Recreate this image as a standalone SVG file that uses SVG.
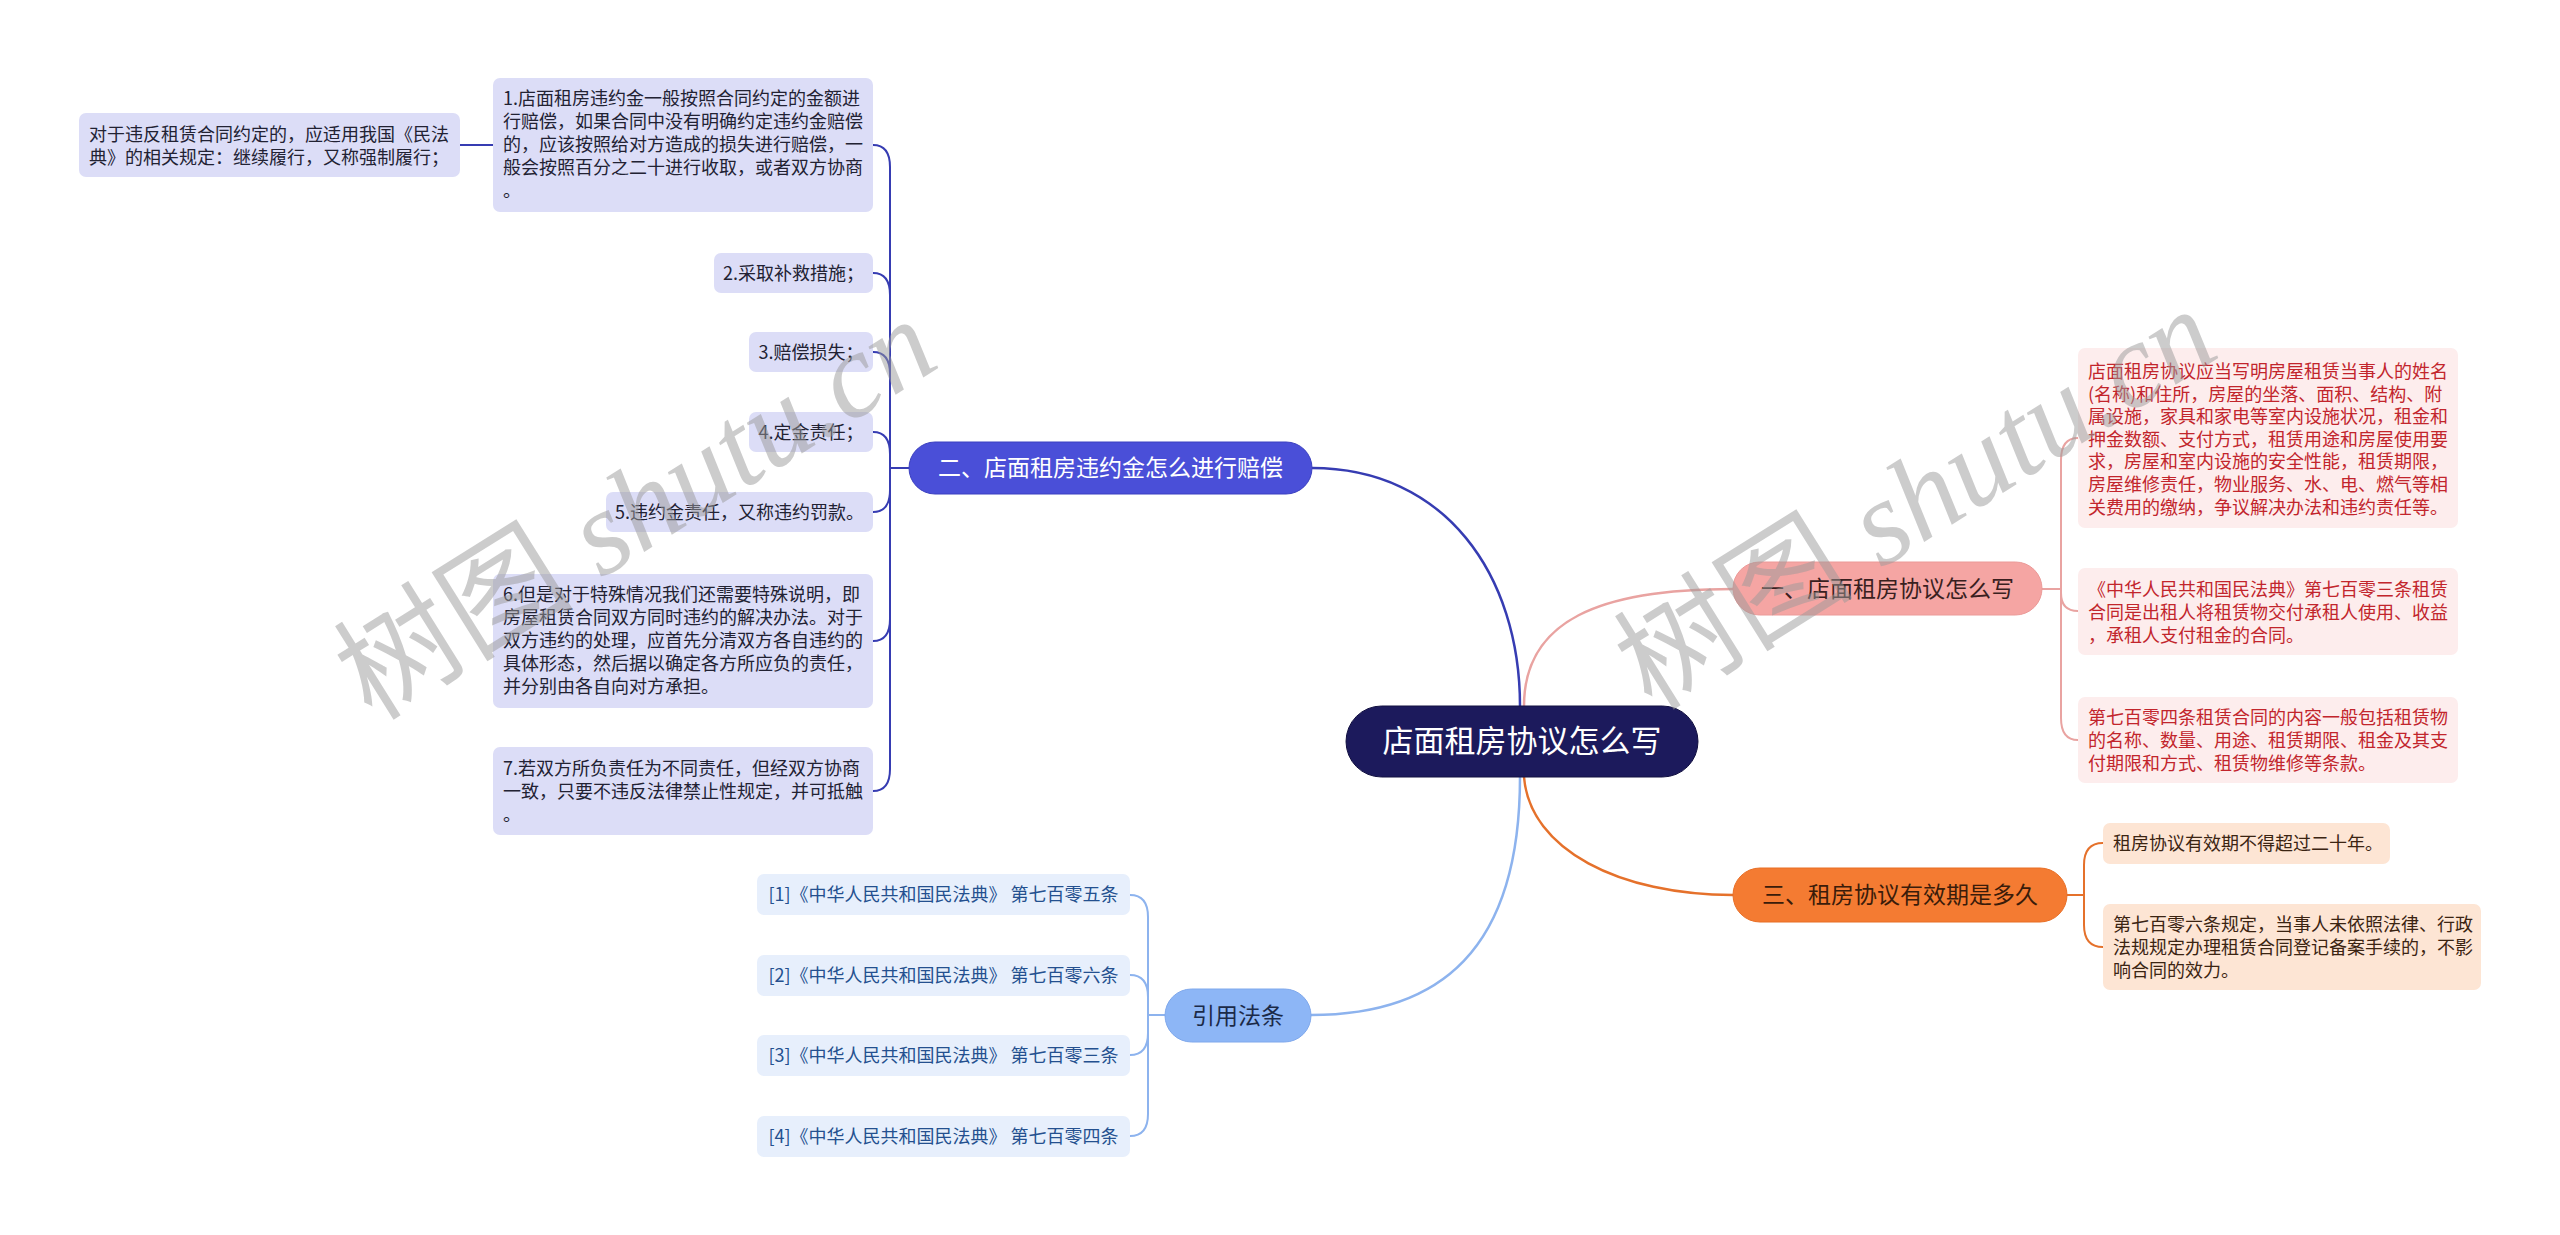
<svg xmlns="http://www.w3.org/2000/svg" width="2560" height="1235" viewBox="0 0 2560 1235">
<style>
text{font-family:"Noto Sans CJK SC","Noto Sans",sans-serif;}
.t18{font-size:18px;}
.br{font-size:23px;}
.lv{fill:#dcddf7;}
.lvt{fill:#222233;}
.pk{fill:#fdeded;}
.pkt{fill:#c2252c;}
.or{fill:#fde5d4;}
.ort{fill:#3b2412;}
.bl{fill:#e7effc;}
.blt{fill:#24508f;}
.c2{fill:none;stroke-width:2;}
.c3{fill:none;stroke-width:2.5;}
.wm{font-family:"Liberation Serif","Noto Sans CJK SC",serif;font-size:120px;fill:#9a9a9a;fill-opacity:0.5;}
</style>
<rect width="2560" height="1235" fill="#ffffff"/>

<g id="connectors">
  <path class="c3" stroke="#363cb2" d="M1520 706 C1520 575 1445 468 1312 468"/>
  <path class="c3" stroke="#e9a3a1" d="M1524 706 C1524 620 1600 589 1733 589"/>
  <path class="c3" stroke="#e5712b" d="M1524 777 C1530 850 1620 895 1733 895"/>
  <path class="c3" stroke="#8db3ee" d="M1520 777 C1520 950 1440 1015 1311 1015"/>

  <g stroke="#363cb2">
    <path class="c2" d="M493 145 H460"/>
    <path class="c2" d="M909 468 H890 V167 Q890 145 873 145"/>
    <path class="c2" d="M909 468 H890 V295 Q890 273 873 273"/>
    <path class="c2" d="M909 468 H890 V374 Q890 352 873 352"/>
    <path class="c2" d="M909 468 H890 V454 Q890 432 873 432"/>
    <path class="c2" d="M909 468 H890 V490 Q890 512 873 512"/>
    <path class="c2" d="M909 468 H890 V619 Q890 641 873 641"/>
    <path class="c2" d="M909 468 H890 V769 Q890 791 873 791"/>
  </g>
  <g stroke="#e9a3a1">
    <path class="c2" d="M2042 589 H2061 V460 Q2061 438 2078 438"/>
    <path class="c2" d="M2042 589 H2061 V593 Q2061 611 2078 611"/>
    <path class="c2" d="M2042 589 H2061 V718 Q2061 740 2078 740"/>
  </g>
  <g stroke="#e5712b">
    <path class="c2" d="M2067 895 H2084 V865 Q2084 843 2103 843"/>
    <path class="c2" d="M2067 895 H2084 V925 Q2084 947 2103 947"/>
  </g>
  <g stroke="#8db3ee">
    <path class="c2" d="M1165 1015 H1148 V917 Q1148 895 1130 895"/>
    <path class="c2" d="M1165 1015 H1148 V997 Q1148 975 1130 975"/>
    <path class="c2" d="M1165 1015 H1148 V1033 Q1148 1055 1130 1055"/>
    <path class="c2" d="M1165 1015 H1148 V1114 Q1148 1136 1130 1136"/>
  </g>
</g>

<g id="root">
  <rect x="1346" y="706" width="352" height="71" rx="35.5" fill="#1c1a5c" stroke="#121040" stroke-width="1"/>
  <text x="1522" y="752" font-size="31" fill="#ffffff" text-anchor="middle">店面租房协议怎么写</text>
</g>

<g id="branch2">
  <rect x="909" y="442" width="403" height="52" rx="26" fill="#4a4fd8" stroke="#3b40c0" stroke-width="1"/>
  <text class="br" x="1110.5" y="476" fill="#ffffff" text-anchor="middle">二、店面租房违约金怎么进行赔偿</text>
</g>
<g id="n-left0">
  <rect class="lv" x="79" y="113" width="381" height="64" rx="7"/>
  <text class="t18 lvt" x="89" y="141">对于违反租赁合同约定的，应适用我国《民法<tspan x="89" dy="23">典》的相关规定：继续履行，又称强制履行；</tspan></text>
</g>
<g id="n-b2-1">
  <rect class="lv" x="493" y="78" width="380" height="134" rx="7"/>
  <text class="t18 lvt" x="503" y="105"><tspan x="503">1.店面租房违约金一般按照合同约定的金额进</tspan><tspan x="503" dy="23">行赔偿，如果合同中没有明确约定违约金赔偿</tspan><tspan x="503" dy="23">的，应该按照给对方造成的损失进行赔偿，一</tspan><tspan x="503" dy="23">般会按照百分之二十进行收取，或者双方协商</tspan><tspan x="503" dy="23">。</tspan></text>
</g>
<g id="n-b2-2">
  <rect class="lv" x="714" y="253" width="159" height="40" rx="7"/>
  <text class="t18 lvt" x="793.5" y="279.5" text-anchor="middle">2.采取补救措施；</text>
</g>
<g id="n-b2-3">
  <rect class="lv" x="749" y="332" width="124" height="40" rx="7"/>
  <text class="t18 lvt" x="811" y="358.5" text-anchor="middle">3.赔偿损失；</text>
</g>
<g id="n-b2-4">
  <rect class="lv" x="749" y="412" width="124" height="40" rx="7"/>
  <text class="t18 lvt" x="811" y="438.5" text-anchor="middle">4.定金责任；</text>
</g>
<g id="n-b2-5">
  <rect class="lv" x="606" y="492" width="267" height="40" rx="7"/>
  <text class="t18 lvt" x="739.5" y="518.5" text-anchor="middle">5.违约金责任，又称违约罚款。</text>
</g>
<g id="n-b2-6">
  <rect class="lv" x="493" y="574" width="380" height="134" rx="7"/>
  <text class="t18 lvt" x="503" y="601"><tspan x="503">6.但是对于特殊情况我们还需要特殊说明，即</tspan><tspan x="503" dy="23">房屋租赁合同双方同时违约的解决办法。对于</tspan><tspan x="503" dy="23">双方违约的处理，应首先分清双方各自违约的</tspan><tspan x="503" dy="23">具体形态，然后据以确定各方所应负的责任，</tspan><tspan x="503" dy="23">并分别由各自向对方承担。</tspan></text>
</g>
<g id="n-b2-7">
  <rect class="lv" x="493" y="747" width="380" height="88" rx="7"/>
  <text class="t18 lvt" x="503" y="775"><tspan x="503">7.若双方所负责任为不同责任，但经双方协商</tspan><tspan x="503" dy="23">一致，只要不违反法律禁止性规定，并可抵触</tspan><tspan x="503" dy="23">。</tspan></text>
</g>

<g id="branch1">
  <rect x="1733" y="562" width="309" height="53" rx="26.5" fill="#f5a5a3" stroke="#eb9a98" stroke-width="1"/>
  <text class="br" x="1887.5" y="596.5" fill="#3a1f1f" text-anchor="middle">一、店面租房协议怎么写</text>
</g>
<g id="n-b1-1">
  <rect class="pk" x="2078" y="348" width="380" height="180" rx="7"/>
  <text class="t18 pkt" x="2088" y="378"><tspan x="2088">店面租房协议应当写明房屋租赁当事人的姓名</tspan><tspan x="2088" dy="22.6">(名称)和住所，房屋的坐落、面积、结构、附</tspan><tspan x="2088" dy="22.6">属设施，家具和家电等室内设施状况，租金和</tspan><tspan x="2088" dy="22.6">押金数额、支付方式，租赁用途和房屋使用要</tspan><tspan x="2088" dy="22.6">求，房屋和室内设施的安全性能，租赁期限，</tspan><tspan x="2088" dy="22.6">房屋维修责任，物业服务、水、电、燃气等相</tspan><tspan x="2088" dy="22.6">关费用的缴纳，争议解决办法和违约责任等。</tspan></text>
</g>
<g id="n-b1-2">
  <rect class="pk" x="2078" y="568" width="380" height="87" rx="7"/>
  <text class="t18 pkt" x="2088" y="596"><tspan x="2088">《中华人民共和国民法典》第七百零三条租赁</tspan><tspan x="2088" dy="23">合同是出租人将租赁物交付承租人使用、收益</tspan><tspan x="2088" dy="23">，承租人支付租金的合同。</tspan></text>
</g>
<g id="n-b1-3">
  <rect class="pk" x="2078" y="697" width="380" height="86" rx="7"/>
  <text class="t18 pkt" x="2088" y="724"><tspan x="2088">第七百零四条租赁合同的内容一般包括租赁物</tspan><tspan x="2088" dy="23">的名称、数量、用途、租赁期限、租金及其支</tspan><tspan x="2088" dy="23">付期限和方式、租赁物维修等条款。</tspan></text>
</g>

<g id="branch3">
  <rect x="1733" y="868" width="334" height="54" rx="27" fill="#f47b32" stroke="#e86e25" stroke-width="1"/>
  <text class="br" x="1900" y="903" fill="#3a1c0a" text-anchor="middle">三、租房协议有效期是多久</text>
</g>
<g id="n-b3-1">
  <rect class="or" x="2103" y="823" width="287" height="41" rx="7"/>
  <text class="t18 ort" x="2113" y="850">租房协议有效期不得超过二十年。</text>
</g>
<g id="n-b3-2">
  <rect class="or" x="2103" y="904" width="378" height="86" rx="7"/>
  <text class="t18 ort" x="2113" y="931"><tspan x="2113">第七百零六条规定，当事人未依照法律、行政</tspan><tspan x="2113" dy="23">法规规定办理租赁合同登记备案手续的，不影</tspan><tspan x="2113" dy="23">响合同的效力。</tspan></text>
</g>

<g id="branch4">
  <rect x="1165" y="989" width="146" height="53" rx="26.5" fill="#8db6f6" stroke="#7fa8ec" stroke-width="1"/>
  <text class="br" x="1238" y="1023.5" fill="#1b2a48" text-anchor="middle">引用法条</text>
</g>
<g id="n-b4-1">
  <rect class="bl" x="757" y="874" width="373" height="41" rx="7"/>
  <text class="t18 blt" x="943.5" y="901" text-anchor="middle">[1]《中华人民共和国民法典》 第七百零五条</text>
</g>
<g id="n-b4-2">
  <rect class="bl" x="757" y="955" width="373" height="41" rx="7"/>
  <text class="t18 blt" x="943.5" y="982" text-anchor="middle">[2]《中华人民共和国民法典》 第七百零六条</text>
</g>
<g id="n-b4-3">
  <rect class="bl" x="757" y="1035" width="373" height="41" rx="7"/>
  <text class="t18 blt" x="943.5" y="1062" text-anchor="middle">[3]《中华人民共和国民法典》 第七百零三条</text>
</g>
<g id="n-b4-4">
  <rect class="bl" x="757" y="1116" width="373" height="41" rx="7"/>
  <text class="t18 blt" x="943.5" y="1143" text-anchor="middle">[4]《中华人民共和国民法典》 第七百零四条</text>
</g>

<g id="watermark">
  <text class="wm" x="372" y="722" transform="rotate(-32 372 722)">树图 <tspan font-style="italic">shutu.cn</tspan></text>
  <text class="wm" x="1652" y="712" transform="rotate(-32 1652 712)">树图 <tspan font-style="italic">shutu.cn</tspan></text>
</g>
</svg>
